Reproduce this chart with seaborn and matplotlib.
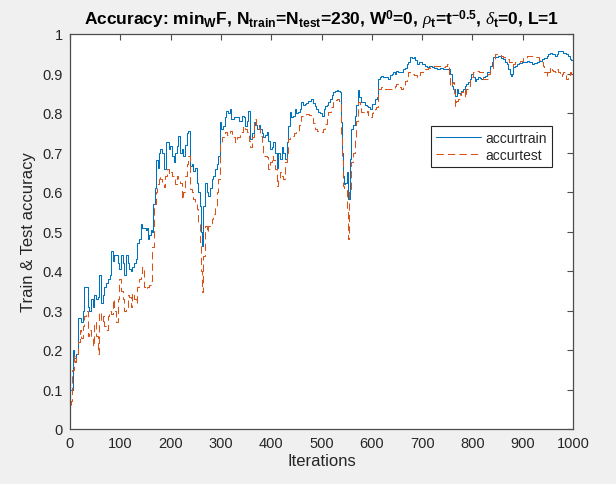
import numpy as np
import pandas as pd
import matplotlib
matplotlib.use("Agg")
import matplotlib.pyplot as plt
import seaborn as sns

# ---------------- data ----------------
train_iter = [1, 2, 5, 8, 12, 15, 19, 22, 25, 28, 32, 35, 38, 42, 45, 48, 52, 55, 58, 62,
              65, 68, 72, 75, 79, 82, 85, 88, 91, 95, 98, 101, 105, 108, 111, 115, 118, 121, 124, 128,
              131, 134, 138, 141, 144, 148, 151, 154, 156, 158, 161, 164, 166, 168, 171, 174, 177,
              179, 182, 186, 191, 196, 199, 203, 206, 209, 212, 215, 219, 222, 225, 229, 232, 235, 239,
              242, 245, 248, 252, 255, 258, 260, 262, 265, 268, 272, 275, 279, 282, 285, 288, 292, 295,
              298, 301, 305, 308, 311, 315, 318, 321, 326, 331, 336, 341, 345, 348, 351, 354, 358, 361,
              365, 368, 371, 375,
              378, 381, 384, 388, 391, 394, 398, 401, 404, 408, 411, 414, 417, 421, 424, 427, 431, 434,
              437, 440, 444, 447, 450, 454, 457, 460, 464, 467, 470, 474, 477, 480, 484, 487, 490, 494,
              497, 500, 504, 507, 510, 513, 517, 520, 523, 527, 530, 533, 537, 539, 541, 543, 545, 547,
              550, 553, 556, 559, 562, 566, 569, 572, 575, 579,
              583, 586, 590, 593, 596, 601, 606, 609, 611, 612, 616, 619, 623, 626, 630, 633, 637, 640,
              643, 646, 649, 652, 656, 659, 663, 666, 669, 672, 676, 679, 683, 686, 689, 693, 696, 699,
              702, 706, 709, 714, 719, 724, 729, 735, 742, 747, 752, 756, 759, 762, 765, 769, 772, 775,
              778, 782, 785, 788, 792, 795, 798, 801, 805, 808, 812, 815, 818, 821, 825, 830, 835, 838,
              841, 846, 851, 856, 861, 865, 868, 871, 874, 876, 878, 881, 885, 888, 893, 898, 903, 908,
              913, 918, 923, 928, 933, 938, 943, 948, 951, 954, 959, 964, 968, 971, 976, 981, 984, 987,
              991, 994, 997, 1000]
train_acc = [0.10, 0.10, 0.20, 0.18, 0.19, 0.28, 0.28, 0.27, 0.30, 0.36, 0.36, 0.31, 0.30, 0.33, 0.31, 0.34, 0.33, 0.335, 0.39, 0.32,
             0.34, 0.36, 0.37, 0.38, 0.39, 0.45, 0.425, 0.44, 0.44, 0.42, 0.405, 0.44, 0.42, 0.39, 0.44, 0.42, 0.405, 0.40, 0.41, 0.42,
             0.43, 0.47, 0.48, 0.52, 0.51, 0.51, 0.505, 0.51, 0.48, 0.49, 0.505, 0.50, 0.57, 0.61, 0.68, 0.66, 0.70,
             0.71, 0.70, 0.658, 0.726, 0.709, 0.717, 0.69, 0.675, 0.70, 0.717, 0.742, 0.70, 0.71, 0.692, 0.72, 0.75, 0.755, 0.667,
             0.67, 0.654, 0.66, 0.624, 0.60, 0.565, 0.50, 0.464, 0.565, 0.624, 0.60, 0.59, 0.61, 0.633, 0.64, 0.658, 0.67, 0.692,
             0.776, 0.76, 0.768, 0.79, 0.806, 0.80, 0.81, 0.785, 0.79, 0.789, 0.78, 0.793, 0.79, 0.768, 0.78, 0.806, 0.734, 0.75,
             0.776, 0.77, 0.76, 0.77,
             0.759, 0.75, 0.738, 0.745, 0.751, 0.73, 0.709, 0.715, 0.726, 0.70, 0.662, 0.70, 0.684, 0.713, 0.70, 0.684, 0.726, 0.768,
             0.802, 0.79, 0.793, 0.81, 0.80, 0.802, 0.81, 0.827, 0.82, 0.823, 0.825, 0.831, 0.83, 0.835, 0.825, 0.818, 0.81, 0.802,
             0.80, 0.793, 0.81, 0.818, 0.82, 0.827, 0.835, 0.845, 0.852, 0.855, 0.857, 0.855, 0.852, 0.776, 0.70, 0.641, 0.62, 0.624,
             0.65, 0.582, 0.684, 0.759, 0.77, 0.793, 0.82, 0.857, 0.84, 0.827,
             0.827, 0.82, 0.818, 0.815, 0.81, 0.823, 0.835, 0.835, 0.84, 0.886, 0.89, 0.894, 0.89, 0.89, 0.89, 0.886, 0.895, 0.90,
             0.903, 0.90, 0.907, 0.905, 0.903, 0.905, 0.911, 0.915, 0.924, 0.93, 0.941, 0.94, 0.941, 0.935, 0.924, 0.93, 0.928, 0.925,
             0.924, 0.92, 0.916, 0.918, 0.916, 0.913, 0.911, 0.913, 0.911, 0.912, 0.911, 0.90, 0.869, 0.86, 0.844, 0.861, 0.85, 0.848,
             0.855, 0.861, 0.869, 0.873, 0.878, 0.886, 0.899, 0.89, 0.882, 0.885, 0.89, 0.888, 0.886, 0.89, 0.894, 0.905, 0.92, 0.93,
             0.941, 0.943, 0.945, 0.94, 0.937, 0.93, 0.924, 0.911, 0.90, 0.894, 0.90, 0.916, 0.92, 0.924, 0.926, 0.928, 0.93, 0.932,
             0.928, 0.924, 0.926, 0.928, 0.932, 0.937, 0.94, 0.945, 0.95, 0.953, 0.95, 0.945, 0.95, 0.958, 0.956, 0.953, 0.951, 0.949,
             0.945, 0.937, 0.935, 0.932]

test_iter = [1, 2, 4, 7, 10, 12, 15, 19, 22, 25, 28, 32, 35, 38, 42, 45, 48, 52, 55, 58,
             62, 65, 68, 72, 75, 78, 82, 85, 88, 91, 95, 98, 101, 105, 108, 111, 115, 118, 121, 124,
             128, 131, 134, 138, 141, 144, 148, 151, 154, 158, 161, 164, 167, 170, 173, 176,
             179, 182, 186, 189, 192, 196, 199, 203, 206, 209, 212, 215, 219, 222, 225, 229, 232, 235,
             239, 242, 245, 248, 252, 255, 258, 260, 262, 265, 268, 272, 275, 279, 282, 285, 288, 292,
             295, 298, 302, 308, 313, 318, 323, 328, 333, 338, 344, 348, 351, 355, 358, 361, 365, 370, 375,
             378, 381, 384, 388, 391, 394, 398, 401, 404, 408, 411, 414, 417, 421, 424, 427, 431, 434,
             437, 440, 445, 450, 455, 460, 465, 470, 475, 480, 484, 487, 492, 497, 502, 507, 510, 513,
             518, 523, 527, 530, 534, 537, 539, 541, 543, 545, 548, 551, 553, 555, 559, 562, 566, 569,
             572, 576, 579,
             583, 586, 590, 593, 596, 600, 603, 606, 609, 612, 616, 619, 624, 629, 636, 643, 646, 649,
             654, 659, 662, 666, 669, 672, 676, 679, 684, 689, 692, 696, 701, 706, 711, 716, 722, 729,
             735, 742, 746, 749, 753, 756, 759, 762, 764, 766, 768, 771, 775, 778, 782, 785, 788, 792,
             796, 801, 805, 808, 813, 818, 821, 825, 828, 831, 835, 840, 845, 851, 856, 861, 865, 868,
             873, 878, 881, 885, 890, 895, 901, 908, 913, 918, 923, 928, 933, 938, 941, 943, 948, 951,
             954, 958, 961, 965, 968, 971, 974, 978, 981, 984, 987, 991, 994, 997, 1000]
test_acc = [0.06, 0.07, 0.15, 0.185, 0.17, 0.19, 0.22, 0.25, 0.23, 0.26, 0.285, 0.30, 0.235, 0.25, 0.235, 0.21, 0.27, 0.235, 0.19, 0.295,
            0.27, 0.285, 0.26, 0.25, 0.285, 0.30, 0.29, 0.33, 0.30, 0.27, 0.33, 0.38, 0.35, 0.33, 0.30, 0.31, 0.34, 0.335, 0.31, 0.345,
            0.33, 0.32, 0.36, 0.38, 0.395, 0.41, 0.36, 0.355, 0.36, 0.365, 0.375, 0.46, 0.57, 0.60, 0.62, 0.64,
            0.633, 0.62, 0.612, 0.64, 0.658, 0.645, 0.65, 0.64, 0.633, 0.62, 0.641, 0.63, 0.624, 0.582, 0.60, 0.641, 0.67, 0.692,
            0.608, 0.60, 0.582, 0.57, 0.557, 0.523, 0.473, 0.40, 0.346, 0.439, 0.515, 0.50, 0.515, 0.52, 0.532, 0.545, 0.565, 0.60,
            0.633, 0.726, 0.74, 0.751, 0.745, 0.755, 0.74, 0.726, 0.74, 0.751, 0.768, 0.76, 0.751, 0.73, 0.713, 0.74, 0.785, 0.77, 0.76,
            0.743, 0.72, 0.692, 0.69, 0.688, 0.658, 0.675, 0.692, 0.68, 0.658, 0.616, 0.63, 0.65, 0.64, 0.633, 0.675, 0.70, 0.734,
            0.74, 0.743, 0.75, 0.755, 0.77, 0.793, 0.795, 0.797, 0.795, 0.793, 0.775, 0.759, 0.755, 0.751, 0.76, 0.772, 0.785, 0.802,
            0.815, 0.831, 0.833, 0.835, 0.83, 0.827, 0.743, 0.68, 0.616, 0.61, 0.608, 0.549, 0.481, 0.608, 0.675, 0.70, 0.734, 0.78,
            0.827, 0.815, 0.802,
            0.802, 0.80, 0.806, 0.795, 0.789, 0.80, 0.806, 0.81, 0.814, 0.861, 0.862, 0.865, 0.862, 0.861, 0.86, 0.861, 0.868, 0.873,
            0.865, 0.861, 0.87, 0.882, 0.89, 0.903, 0.90, 0.899, 0.895, 0.89, 0.895, 0.903, 0.907, 0.911, 0.915, 0.92, 0.92, 0.92,
            0.918, 0.916, 0.92, 0.924, 0.90, 0.869, 0.875, 0.878, 0.85, 0.818, 0.83, 0.835, 0.845, 0.852, 0.86, 0.84, 0.86, 0.869,
            0.89, 0.903, 0.905, 0.907, 0.905, 0.903, 0.886, 0.886, 0.886, 0.90, 0.911, 0.935, 0.949, 0.949, 0.945, 0.941, 0.94, 0.937,
            0.93, 0.92, 0.925, 0.928, 0.93, 0.932, 0.94, 0.945, 0.945, 0.945, 0.943, 0.941, 0.935, 0.928, 0.92, 0.903, 0.894, 0.905,
            0.916, 0.91, 0.907, 0.905, 0.911, 0.905, 0.894, 0.898, 0.903, 0.895, 0.886, 0.895, 0.903, 0.90, 0.899]

x_ticks = [0, 100, 200, 300, 400, 500, 600, 700, 800, 900, 1000]
y_ticks = [0, 0.1, 0.2, 0.3, 0.4, 0.5, 0.6, 0.7, 0.8, 0.9, 1]
y_tick_labels = ["0", "0.1", "0.2", "0.3", "0.4", "0.5", "0.6", "0.7", "0.8", "0.9", "1"]
series_names = ["accurtrain", "accurtest"]

# ---------------- style ----------------
sns.set_style("white")
plt.rcParams["font.family"] = ["Liberation Sans", "DejaVu Sans"]
plt.rcParams["mathtext.fontset"] = "custom"
plt.rcParams["mathtext.rm"] = "Liberation Sans"
plt.rcParams["mathtext.bf"] = "Liberation Sans:bold"
plt.rcParams["mathtext.it"] = "Liberation Serif:italic"

BLUE = "#0072BD"
ORANGE = "#D95319"
AXC = "#4d4d4d"
BG = "#f0f0f0"

fig = plt.figure(figsize=(6.16, 4.85), dpi=100, facecolor=BG)
ax = fig.add_axes([70 / 616, 1 - 430 / 485, 503 / 616, 395 / 485])
ax.set_facecolor("white")

df_train = pd.DataFrame({"Iterations": train_iter, "acc": train_acc})
df_test = pd.DataFrame({"Iterations": test_iter, "acc": test_acc})

sns.lineplot(data=df_train, x="Iterations", y="acc", ax=ax, color=BLUE,
             linewidth=0.75, label=series_names[0], sort=False, drawstyle="steps-post")
sns.lineplot(data=df_test, x="Iterations", y="acc", ax=ax, color=ORANGE,
             linewidth=0.75, linestyle=(0, (7, 4)), label=series_names[1], sort=False,
             drawstyle="steps-post")

ax.set_xlim(0, 1000)
ax.set_ylim(0, 1)
ax.set_xticks(x_ticks)
ax.set_yticks(y_ticks)
ax.set_yticklabels(y_tick_labels)
ax.tick_params(direction="in", length=4, width=0.8, colors=AXC, labelcolor="#262626",
               labelsize=10.5, top=True, right=True, pad=5)
for s in ax.spines.values():
    s.set_color(AXC)
    s.set_linewidth(0.9)

ax.set_xlabel("Iterations", fontsize=12, color="#262626", labelpad=2)
ax.set_ylabel("Train & Test accuracy", fontsize=12, color="#262626", labelpad=5)

title = (r"Accuracy: min$_\mathbf{W}$F, N$_\mathbf{train}$=N$_\mathbf{test}$=230, "
         r"W$^\mathbf{0}$=0, $\rho_\mathbf{t}$=t$^\mathbf{-0.5}$, $\delta_\mathbf{t}$=0, L=1")
ax.set_title(title, fontsize=12.5, fontweight="bold", color="black", pad=7)

leg = ax.legend(loc="upper left", bbox_to_anchor=(0.717, 0.768), borderaxespad=0,
                frameon=True, fancybox=False, edgecolor="#262626", framealpha=1,
                fontsize=10, handlelength=3.3, handletextpad=0.3, borderpad=0.35,
                labelspacing=0.25)
leg.get_frame().set_linewidth(0.8)

fig.savefig("out.png", dpi=100, facecolor=BG)
